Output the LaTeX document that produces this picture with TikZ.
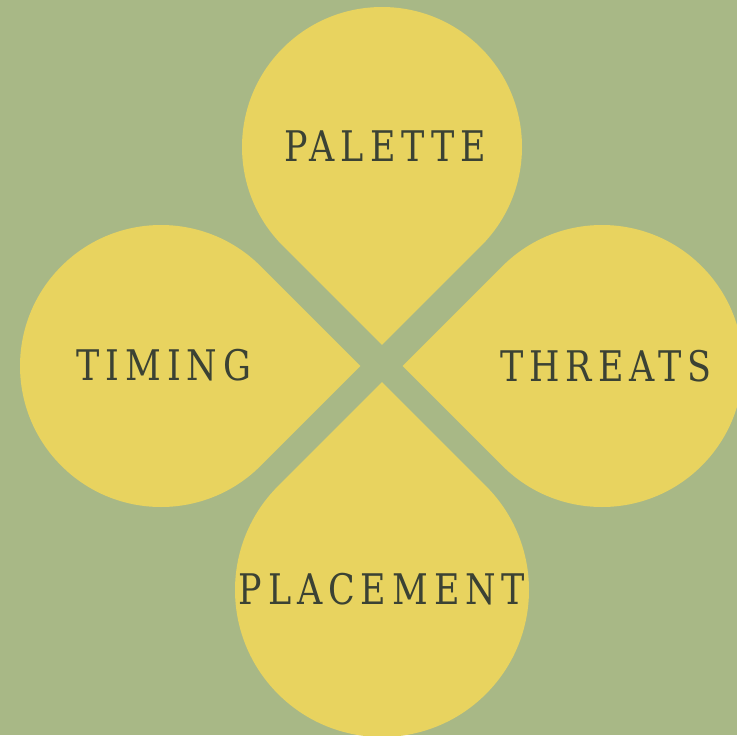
\documentclass[tikz,border=0pt]{standalone}
\usepackage{fontspec}
\setmainfont{DejaVu Serif}
\newfontfamily\slabfont[LetterSpace=14, FakeStretch=0.92]{DejaVu Serif Condensed}
\definecolor{leafgreen}{HTML}{A8B886}
\definecolor{petalyellow}{HTML}{E8D35F}
\definecolor{inkgray}{HTML}{3B4234}
\tikzset{
    petal/.style={fill=petalyellow},
    petallabel/.style={text=inkgray, font=\slabfont\fontsize{24}{24}\selectfont, inner sep=0pt}
}
% #1 centre, #2 radius, #3 direction of the tip
\newcommand{\petal}[3]{
    \fill[petal, shift={(#1)}, rotate=#3] (1.41421*#2,0) -- (45:#2) arc[start angle=45, end angle=315, radius=#2] -- cycle;
}
\begin{document}
\begin{tikzpicture}[x=0.02cm, y=0.02cm]
        \fill[leafgreen] (0,0) rectangle (737,735);
        \useasboundingbox (0,0) rectangle (737,735);
        \petal{382,588}{140}{-90}
        \petal{161,369}{141}{0}
        \petal{602,369}{141}{180}
        \petal{382,145}{147}{90}
        \node[petallabel] (palette) at (385,589) {PALETTE};
        \node[petallabel] (timing) at (164,370) {TIMING};
        \node[petallabel] (threats) at (606,369) {THREATS};
        \node[petallabel] (placement) at (382,146) {PLACEMENT};
    \end{tikzpicture}
\end{document}
